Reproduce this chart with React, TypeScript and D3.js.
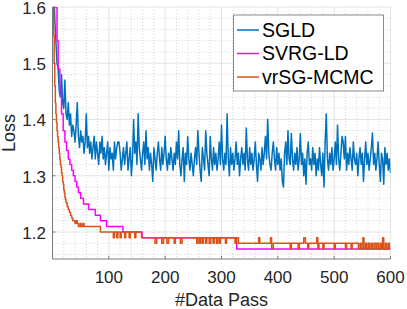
import * as d3 from 'd3';
import React from 'react';

// loss values
const sgldStep = 2; // one SGLD sample every 2 data passes, starting at 2
const sgldLoss = [
  1.66, 1.58, 1.54, 1.50, 1.49, 1.45, 1.44, 1.48, 1.43, 1.42, 1.47, 1.41, 1.40, 1.43, 1.39, 1.41, 1.37, 1.39,
  1.38, 1.36, 1.39, 1.43, 1.37, 1.35, 1.38, 1.36, 1.37, 1.34, 1.36, 1.41, 1.35, 1.37, 1.34, 1.36, 1.33,
  1.35, 1.37, 1.33, 1.36, 1.34, 1.32, 1.36, 1.34, 1.37, 1.33, 1.35, 1.32, 1.34, 1.36, 1.31, 1.35, 1.33, 1.34,
  1.31, 1.36, 1.33, 1.35, 1.36, 1.36, 1.34, 1.31, 1.33, 1.35, 1.32, 1.34, 1.36, 1.31, 1.33, 1.35, 1.30,
  1.33, 1.40, 1.34, 1.36, 1.32, 1.41, 1.35, 1.33, 1.31, 1.34, 1.36, 1.32, 1.38, 1.33, 1.35, 1.31, 1.34, 1.32,
  1.29, 1.35, 1.33, 1.31, 1.34, 1.36, 1.33, 1.31, 1.35, 1.32, 1.34, 1.37, 1.33, 1.31, 1.34, 1.32, 1.35,
  1.33, 1.31, 1.34, 1.32, 1.36, 1.33, 1.38, 1.32, 1.30, 1.33, 1.35, 1.29, 1.34, 1.32, 1.37, 1.33, 1.31, 1.34,
  1.32, 1.30, 1.33, 1.35, 1.32, 1.38, 1.34, 1.31, 1.29, 1.35, 1.33, 1.31, 1.38, 1.34, 1.32, 1.30, 1.37,
  1.33, 1.31, 1.35, 1.32, 1.34, 1.31, 1.33, 1.36, 1.32, 1.39, 1.33, 1.31, 1.34, 1.32, 1.41, 1.33, 1.30, 1.35,
  1.32, 1.34, 1.31, 1.33, 1.36, 1.32, 1.34, 1.30, 1.33, 1.35, 1.32, 1.34, 1.31, 1.385, 1.33, 1.31, 1.35,
  1.32, 1.34, 1.31, 1.33, 1.36, 1.32, 1.29, 1.34, 1.33, 1.31, 1.35, 1.32, 1.34, 1.37, 1.33, 1.40, 1.34, 1.32,
  1.31, 1.34, 1.36, 1.33, 1.31, 1.35, 1.32, 1.34, 1.31, 1.33, 1.29, 1.28, 1.34, 1.36, 1.32, 1.38, 1.33,
  1.32, 1.375, 1.33, 1.31, 1.34, 1.32, 1.35, 1.31, 1.33, 1.375, 1.32, 1.34, 1.30, 1.33, 1.285, 1.34, 1.36, 1.32,
  1.33, 1.31, 1.35, 1.32, 1.34, 1.30, 1.33, 1.31, 1.35, 1.32, 1.30, 1.34, 1.28, 1.36, 1.41, 1.33, 1.31,
  1.34, 1.32, 1.35, 1.31, 1.33, 1.36, 1.32, 1.39, 1.33, 1.31, 1.34, 1.37, 1.36, 1.33, 1.37, 1.31, 1.34, 1.32,
  1.35, 1.33, 1.31, 1.36, 1.33, 1.32, 1.34, 1.30, 1.33, 1.35, 1.32, 1.34, 1.29, 1.33, 1.36, 1.32, 1.34,
  1.31, 1.33, 1.35, 1.376, 1.32, 1.34, 1.31, 1.33, 1.36, 1.32, 1.29, 1.34, 1.33, 1.285, 1.35, 1.32, 1.34, 1.31,
  1.33, 1.305,
];

// [data pass, loss], drawn as steps
const svrgPoints: [number, number][] = [
  [1, 1.68], [3, 1.63], [5, 1.6], [8, 1.54], [10, 1.49], [13, 1.45], [16, 1.41],
  [19, 1.38], [22, 1.36], [25, 1.345], [28, 1.33], [31, 1.32], [34, 1.31],
  [37, 1.3], [40, 1.29], [43, 1.28], [46, 1.27], [50, 1.26], [55, 1.25],
  [64, 1.24], [76, 1.23], [85, 1.22], [96, 1.21], [125, 1.2], [159, 1.19],
  [327, 1.17], [600, 1.17],
];

const vrsgPoints: [number, number][] = [
  [1, 1.62], [2, 1.55], [3, 1.5], [4, 1.46], [5, 1.43], [6, 1.41], [7, 1.395],
  [8, 1.38], [9, 1.37], [10, 1.36], [11, 1.35], [12, 1.34], [13, 1.33], [14, 1.32],
  [15, 1.315], [16, 1.305], [17, 1.3], [18, 1.29], [19, 1.285], [20, 1.275],
  [21, 1.27], [22, 1.262], [23, 1.258], [24, 1.252], [26, 1.245], [28, 1.24],
  [30, 1.235], [32, 1.23], [34, 1.225], [36, 1.22], [40, 1.215], [42, 1.22],
  [44, 1.215], [46, 1.21], [49, 1.215], [51, 1.21], [54, 1.215], [56, 1.21],
  [85, 1.2], [108, 1.19], [110, 1.2], [114, 1.19], [116, 1.2], [120, 1.19],
  [122, 1.2], [128, 1.19], [130, 1.2], [136, 1.19], [138, 1.2], [146, 1.19],
  [148, 1.2], [158, 1.19], [182, 1.18], [185, 1.19], [194, 1.18], [197, 1.19],
  [203, 1.18], [206, 1.19], [216, 1.18], [218, 1.19], [227, 1.18], [230, 1.19],
  [256, 1.18], [258, 1.19], [261, 1.18], [263, 1.19], [266, 1.18], [268, 1.19],
  [272, 1.18], [274, 1.19], [278, 1.18], [281, 1.19], [285, 1.18], [287, 1.19],
  [291, 1.18], [293, 1.19], [296, 1.18], [298, 1.19], [307, 1.18], [309, 1.19],
  [324, 1.18], [326, 1.19], [330, 1.18], [366, 1.19], [368, 1.18], [387, 1.19],
  [389, 1.17], [392, 1.18], [422, 1.17], [424, 1.18], [436, 1.17], [438, 1.18],
  [446, 1.19], [449, 1.18], [453, 1.17], [455, 1.18], [469, 1.19], [471, 1.17],
  [473, 1.18], [480, 1.17], [482, 1.18], [500, 1.17], [502, 1.18], [520, 1.17],
  [522, 1.18], [530, 1.17], [532, 1.18], [543, 1.17], [546, 1.18], [548, 1.17],
  [551, 1.19], [553, 1.17], [556, 1.18], [558, 1.17], [561, 1.18], [563, 1.17],
  [566, 1.18], [568, 1.17], [571, 1.18], [574, 1.17], [576, 1.18], [579, 1.17],
  [582, 1.18], [584, 1.17], [586, 1.19], [588, 1.17], [591, 1.18], [593, 1.17],
  [596, 1.18], [598, 1.17], [600, 1.17],
];

const xTicks = [100, 200, 300, 400, 500, 600];
const yTicks = [1.2, 1.3, 1.4, 1.5, 1.6];
const seriesNames = ['SGLD', 'SVRG-LD', 'vrSG-MCMC'];
const seriesColors = ['#0072BD', '#FF00FF', '#D95319'];

export default function App() {
  const W = 407, H = 309;
  const left = 52.5, right = 390.5, top = 7, bottom = 259;
  const font = '"Liberation Sans", Arial, Helvetica, sans-serif';

  const x = d3.scaleLinear().domain([0, 600]).range([left, right]);
  const y = d3.scaleLinear().domain([1.152, 1.6]).range([bottom, top]);

  const sgld: [number, number][] = sgldLoss.map((v, i) => [(i + 1) * sgldStep, v]);
  const line = d3.line<[number, number]>().x(d => x(d[0])).y(d => y(d[1]));
  const stepLine = d3.line<[number, number]>().x(d => x(d[0])).y(d => y(d[1])).curve(d3.curveStepAfter);

  // minor grid: every 20 passes and 0.02 loss
  const xMinor = d3.range(20, 600, 20).filter(v => v % 100 !== 0);
  const yMinor = d3.range(1.16, 1.6, 0.02).filter(v => Math.abs(v * 10 - Math.round(v * 10)) > 1e-6);

  return (
    <svg width={W} height={H} style={{ position: 'absolute', left: 0, top: 0, background: '#fff' }}
      fontFamily={font}>
      <defs>
        <clipPath id="plot">
          <rect x={left} y={top} width={right - left} height={bottom - top} />
        </clipPath>
      </defs>

      {/* grid */}
      <g stroke="#c8c8c8" strokeWidth={0.8} strokeDasharray="1,2">
        {xMinor.map(v => <line key={'xm' + v} x1={x(v)} x2={x(v)} y1={top} y2={bottom} />)}
        {yMinor.map(v => <line key={'ym' + v} x1={left} x2={right} y1={y(v)} y2={y(v)} />)}
      </g>
      <g stroke="#e3e3e3" strokeWidth={1}>
        {xTicks.map(v => <line key={'xg' + v} x1={x(v)} x2={x(v)} y1={top} y2={bottom} />)}
        {yTicks.map(v => <line key={'yg' + v} x1={left} x2={right} y1={y(v)} y2={y(v)} />)}
      </g>

      {/* series */}
      <g clipPath="url(#plot)" fill="none" strokeLinejoin="round">
        <path d={line(sgld) || ''} stroke={seriesColors[0]} strokeWidth={1.5} />
        <path d={stepLine(svrgPoints) || ''} stroke={seriesColors[1]} strokeWidth={1.5} />
        <path d={stepLine(vrsgPoints) || ''} stroke={seriesColors[2]} strokeWidth={1.5} />
      </g>

      {/* axes */}
      <g stroke="#7a7a7a" strokeWidth={1}>
        <line x1={left} x2={left} y1={top} y2={bottom} />
        <line x1={left} x2={right} y1={bottom} y2={bottom} />
        {xTicks.map(v => <line key={'xt' + v} x1={x(v)} x2={x(v)} y1={bottom} y2={bottom - 3} />)}
        {yTicks.map(v => <line key={'yt' + v} x1={left} x2={left + 3} y1={y(v)} y2={y(v)} />)}
      </g>
      <g fill="#262626" fontSize={17}>
        {xTicks.map(v => (
          <text key={'xl' + v} x={x(v)} y={283} textAnchor="middle">{v}</text>
        ))}
        {yTicks.map(v => (
          <text key={'yl' + v} x={46} y={y(v)} dy="0.4em" textAnchor="end">{v.toFixed(1)}</text>
        ))}
      </g>
      <text x={(left + right) / 2} y={306} textAnchor="middle" fontSize={18} fill="#262626">#Data Pass</text>
      <text transform={`translate(15,${(top + bottom) / 2}) rotate(-90)`} textAnchor="middle" fontSize={18}
        fill="#262626">Loss</text>

      {/* legend */}
      <rect x={233.5} y={15} width={150} height={76} fill="#fff" stroke="#8a8a8a" strokeWidth={1} />
      {seriesNames.map((name, i) => {
        const cy = 30 + i * 23.5;
        return (
          <g key={name}>
            <line x1={237} x2={259} y1={cy} y2={cy} stroke={seriesColors[i]} strokeWidth={1.5} />
            <text x={262} y={cy} dy="0.35em" fontSize={19.5} fill="#000">{name}</text>
          </g>
        );
      })}
    </svg>
  );
}
